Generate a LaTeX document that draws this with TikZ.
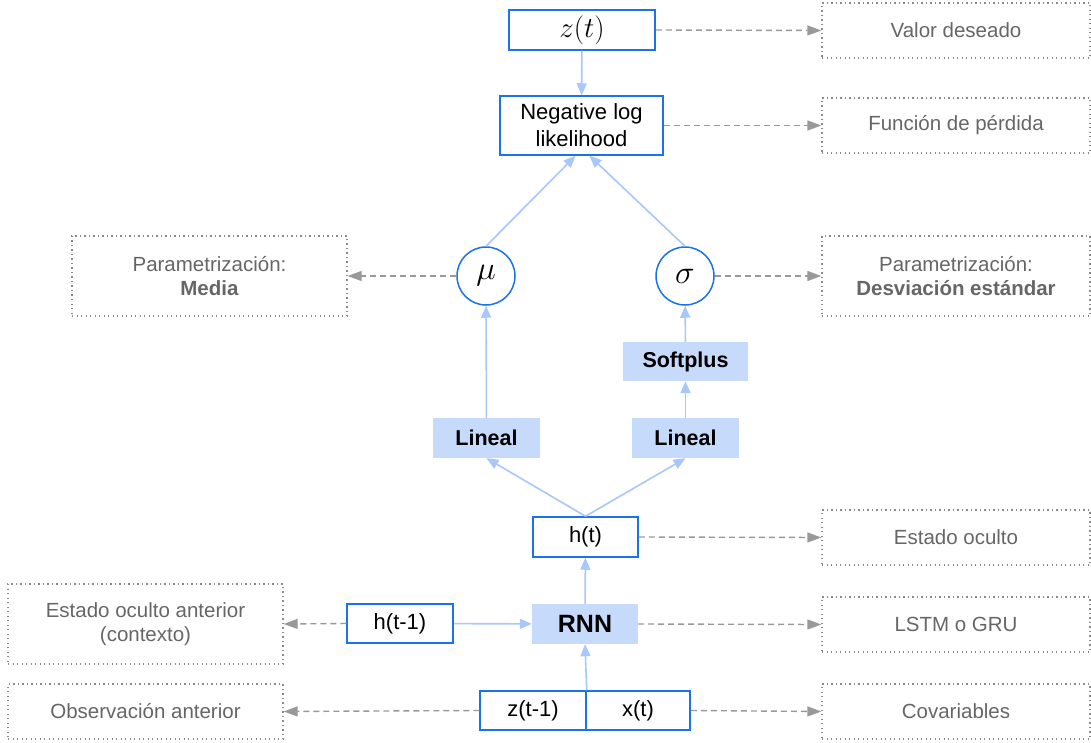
\RequirePackage{fix-cm}
\documentclass[tikz,border=0pt]{standalone}
\usepackage{fontspec}
\setmainfont{Liberation Sans}
\usetikzlibrary{arrows.meta}
\definecolor{gblue}{HTML}{1A73E8}
\definecolor{lblue}{HTML}{C6DAFC}
\definecolor{ablue}{HTML}{A8C7FA}
\definecolor{ltxt}{HTML}{666666}
\definecolor{dgray}{HTML}{999999}
\definecolor{dotgray}{HTML}{8A8A8A}
\tikzset{
  bluebox/.style={draw=gblue, line width=1.5pt, fill=white, inner sep=0pt, align=center,
    font=\fontsize{22}{27}\selectfont},
  fillbox/.style={fill=lblue, draw=none, inner sep=0pt, align=center,
    font=\bfseries\fontsize{21.5}{25}\selectfont},
  circ/.style={circle, draw=gblue, line width=1.5pt, fill=white, minimum size=58pt, inner sep=0pt},
  lbl/.style={draw=dotgray, line width=1.4pt, dash pattern=on 1.4pt off 3.1pt, text=ltxt,
    inner sep=0pt, align=center, font=\fontsize{20.5}{23.5}\selectfont},
  flow/.style={draw=ablue, line width=1.6pt, -{Triangle[width=10pt,length=12pt]}},
  note/.style={draw=dgray, line width=1.4pt, dash pattern=on 6pt off 4pt,
    -{Triangle[width=10pt,length=14pt]}},
}
\begin{document}
\begin{tikzpicture}[x=1pt,y=-1pt]
\useasboundingbox (0,0) rectangle (1091,743);
% main nodes
\node[bluebox, minimum width=146pt, minimum height=40pt] (zt) at (582,30) {\fontsize{29}{34}\selectfont$z(t)$};
\node[bluebox, minimum width=163pt, minimum height=59pt] (nll) at (581.5,125.5) {Negative log\\likelihood};
\node[circ] (mu) at (486,276) {\fontsize{33}{36}\selectfont$\mu$};
\node[circ] (sigma) at (685,276) {\fontsize{33}{36}\selectfont$\sigma$};
\node[fillbox, minimum width=125pt, minimum height=39pt] (soft) at (685.5,361.5) {Softplus};
\node[fillbox, minimum width=107pt, minimum height=40pt] (lin1) at (486.5,438) {Lineal};
\node[fillbox, minimum width=107pt, minimum height=40pt] (lin2) at (685.5,438) {Lineal};
\node[bluebox, minimum width=105pt, minimum height=40pt] (ht) at (585.5,537) {h(t)};
\node[fillbox, minimum width=106pt, minimum height=40pt, font=\bfseries\fontsize{25}{28}\selectfont] (rnn) at (585,624) {RNN};
\node[bluebox, minimum width=106pt, minimum height=39pt] (hprev) at (400,623.5) {h(t-1)};
\node[bluebox, minimum width=106pt, minimum height=39pt] (zprev) at (533,710.5) {z(t-1)};
\node[bluebox, minimum width=104pt, minimum height=39pt] (xt) at (638,710.5) {x(t)};
\coordinate (split) at (zprev.north east);
% labels
\node[lbl, minimum width=268pt, minimum height=55pt] (valor) at (956,30.5) {Valor deseado};
\node[lbl, minimum width=268pt, minimum height=55pt] (funcion) at (956,125.5) {Función de pérdida};
\node[lbl, minimum width=268pt, minimum height=80pt] (paramR) at (956,276) {Parametrización:\\\textbf{Desviación estándar}};
\node[lbl, minimum width=268pt, minimum height=55pt] (estado) at (956,537.5) {Estado oculto};
\node[lbl, minimum width=268pt, minimum height=55pt] (lstm) at (956,624.5) {LSTM o GRU};
\node[lbl, minimum width=268pt, minimum height=55pt] (cov) at (956,711.5) {Covariables};
\node[lbl, minimum width=275pt, minimum height=80pt] (paramL) at (209.5,276) {Parametrización:\\\textbf{Media}};
\node[lbl, minimum width=275pt, minimum height=80pt] (estprev) at (145.5,624) {Estado oculto anterior\\(contexto)};
\node[lbl, minimum width=275pt, minimum height=55pt] (obs) at (145.5,711.5) {Observación anterior};
% flow arrows
\draw[flow] (zt) -- (nll);
\draw[flow] (mu.north) -- ([xshift=-6pt]nll.south);
\draw[flow] (sigma.north) -- ([xshift=8pt]nll.south);
\draw[flow] (lin1) -- (mu);
\draw[flow] (lin2) -- (soft);
\draw[flow] (soft) -- (sigma);
\draw[flow] (ht.north) -- (lin1.south);
\draw[flow] (ht.north) -- (lin2.south);
\draw[flow] (rnn) -- (ht);
\draw[flow] (hprev) -- (rnn);
\draw[flow] (split) -- (rnn.south);
% note arrows
\draw[note] (zt.east) -- (valor.west);
\draw[note] (nll.east) -- (funcion.west);
\draw[note] (mu.west) -- (paramL.east);
\draw[note] (sigma.east) -- (paramR.west);
\draw[note] (ht.east) -- (estado.west);
\draw[note] (rnn.east) -- (lstm.west);
\draw[note] (xt.east) -- (cov.west);
\draw[note] (zprev.west) -- (obs.east);
\draw[note] (hprev.west) -- (estprev.east);
\end{tikzpicture}
\end{document}
